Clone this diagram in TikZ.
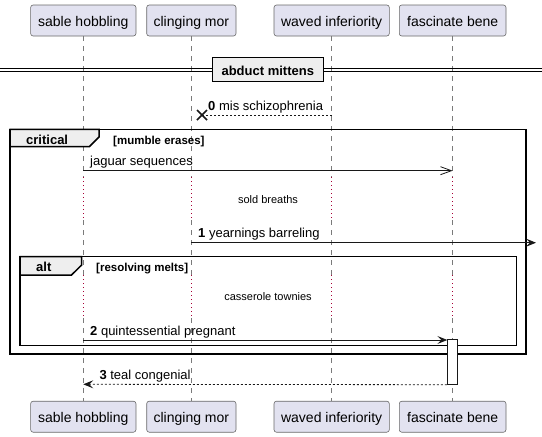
\documentclass[tikz,border=0pt]{standalone}
\usepackage{fontspec}
\setmainfont{Liberation Sans}
\usetikzlibrary{arrows.meta,calc}
\definecolor{partfill}{HTML}{E2E2F0}
\definecolor{partline}{HTML}{181818}
\definecolor{tabfill}{HTML}{EEEEEE}
\definecolor{delayred}{HTML}{A80036}
\definecolor{lifegray}{HTML}{7A7A7A}
\begin{document}
\begin{tikzpicture}[x=1pt,y=-1pt,
  part/.style={draw=partline!65, line width=0.6pt, fill=partfill, rounded corners=2.5pt, inner sep=0pt, minimum height=31pt, font=\fontsize{14}{16}\selectfont, text height=12pt, text depth=0pt},
  life/.style={draw=lifegray, line width=0.6pt, dash pattern=on 5pt off 5pt},
  delay/.style={draw=delayred, line width=0.8pt, dash pattern=on 1pt off 3pt},
  msg/.style={draw=partline, line width=0.8pt},
  ret/.style={msg, dash pattern=on 2pt off 2pt},
  filledhead/.style={-{Stealth[length=10pt,width=8pt,inset=4pt]}},
  openhead/.style={-{Straight Barb[length=11pt,width=8pt]}},
  lbl/.style={anchor=base west, inner sep=0pt, font=\fontsize{13}{15}\selectfont},
  delaynote/.style={anchor=base, inner sep=0pt, font=\fontsize{11}{13}\selectfont},
  grp/.style={draw=black, line width=1.5pt},
  grptab/.style={fill=tabfill, draw=black, line width=1.5pt, line join=miter},
  grplbl/.style={anchor=base west, inner sep=0pt, font=\bfseries\fontsize{13}{15}\selectfont},
  guard/.style={anchor=base west, inner sep=0pt, font=\bfseries\fontsize{11.5}{13}\selectfont},
]
\useasboundingbox (0,0) rectangle (542,437);
\fill[white] (0,0) rectangle (542,437);

% participants
\node[part, minimum width=105.3pt] (pA) at (83.3,20.5) {sable hobbling};
\node[part, minimum width=89.3pt] (pB) at (191.35,20.5) {clinging mor};
\node[part, minimum width=115.3pt] (pC) at (331.65,20.5) {waved inferiority};
\node[part, minimum width=106.7pt] (pD) at (452.65,20.5) {fascinate bene};
\node[part, minimum width=105.3pt] (qA) at (83.3,416.7) {sable hobbling};
\node[part, minimum width=89.3pt] (qB) at (191.35,416.7) {clinging mor};
\node[part, minimum width=115.3pt] (qC) at (331.65,416.7) {waved inferiority};
\node[part, minimum width=106.7pt] (qD) at (452.65,416.7) {fascinate bene};

% lifelines
\foreach \n/\x in {A/83.3,B/191.35,C/331.65,D/452.65} {
  \coordinate (\n1) at (\x,177);
  \coordinate (\n2) at (\x,220);
  \coordinate (\n3) at (\x,275);
  \coordinate (\n4) at (\x,318);
  \draw[life] (p\n.south) -- (\n1);
  \draw[delay] (\n1) -- (\n2);
  \draw[life] (\n2) -- (\n3);
  \draw[delay] (\n3) -- (\n4);
  \draw[life] (\n4) -- (q\n.north);
}

% divider
\draw[black, line width=0.9pt] (0,68.3) -- (542,68.3);
\draw[black, line width=0.9pt] (0,71.7) -- (542,71.7);
\node[draw=black, fill=tabfill, line width=1.5pt, minimum width=111pt, minimum height=24.4pt, inner sep=0pt,
      font=\bfseries\fontsize{13}{15}\selectfont, text height=11pt, text depth=0pt] (div) at (267.8,69.5) {abduct mittens};

% message 0 (destroy)
\coordinate (m0s) at (331.65,115);
\coordinate (xc) at (202,115);
\draw[ret] (m0s) -- (xc);
\draw[partline, line width=1.6pt] ($(xc)+(-5,-5)$) -- ($(xc)+(5,5)$);
\draw[partline, line width=1.6pt] ($(xc)+(-5,5)$) -- ($(xc)+(5,-5)$);
\node[lbl] (l0) at (208,110) {\textbf{0} mis schizophrenia};

% critical frame
\draw[grptab] (10,129.3) -- (99,129.3) -- (99,137) -- (89.3,146.7) -- (10,146.7) -- cycle;
\draw[grp] (10,129.3) rectangle (526,354);
\node[grplbl] (tcrit) at (26,144) {critical};
\node[guard] (gcrit) at (113,144) {[mumble erases]};

% jaguar sequences
\coordinate (m1s) at (83.3,170.7);
\coordinate (m1e) at (452.65,170.7);
\draw[msg, openhead] (m1s) -- (m1e);
\node[lbl] (l1) at (90,165.7) {jaguar sequences};

\node[delaynote] (d1) at (268,203) {sold breaths};

% yearnings barreling
\coordinate (m2s) at (191.35,242.7);
\coordinate (m2e) at (536,242.7);
\draw[msg, filledhead] (m2s) -- (m2e);
\node[lbl] (l2) at (198,237.7) {\textbf{1} yearnings barreling};

% alt frame
\draw[grptab] (20,256.7) -- (81.7,256.7) -- (81.7,265) -- (71.5,275) -- (20,275) -- cycle;
\draw[grp] (20,256.7) rectangle (516.3,345.7);
\node[grplbl] (talt) at (36,271.7) {alt};
\node[guard] (galt) at (96,271.7) {[resolving melts]};

\node[delaynote] (d2) at (268,300.5) {casserole townies};

% activation
\node[draw=partline, fill=white, line width=0.8pt, minimum width=10pt, minimum height=45pt, inner sep=0pt] (act) at (452.3,361.8) {};

% quintessential pregnant
\coordinate (m3s) at (83.3,340);
\coordinate (m3e) at (447.3,340);
\draw[msg, filledhead] (m3s) -- (m3e);
\node[lbl] (l3) at (90,335) {\textbf{2} quintessential pregnant};

% teal congenial
\coordinate (m4e) at (83.3,384.3);
\draw[ret, filledhead] (act.south west) -- (m4e);
\node[lbl] (l4) at (99.3,379.3) {\textbf{3} teal congenial};
\end{tikzpicture}
\end{document}
